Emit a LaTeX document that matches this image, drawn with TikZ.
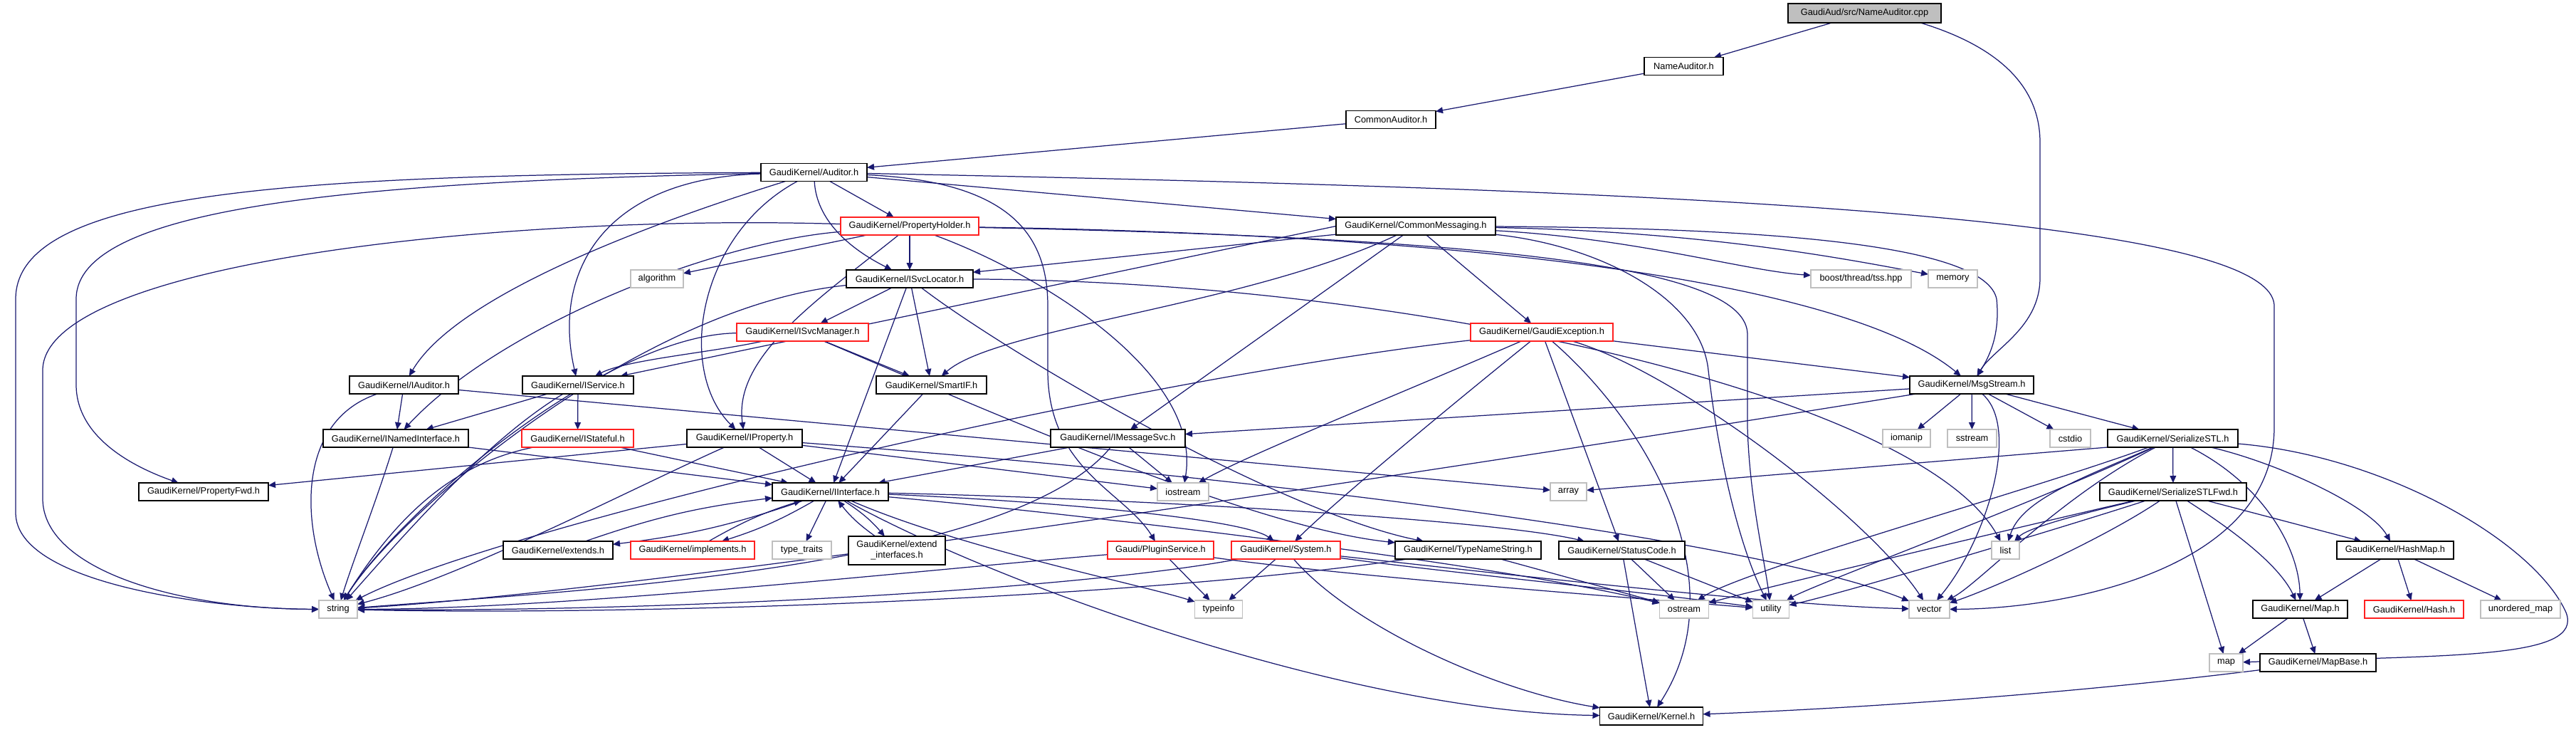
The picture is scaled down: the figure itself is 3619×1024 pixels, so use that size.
\documentclass[tikz,border=0pt]{standalone}
\usepackage{fontspec}
\newfontfamily\dfont{Liberation Sans}
\usetikzlibrary{arrows.meta,calc}
\definecolor{edgec}{HTML}{191970}
\definecolor{redc}{HTML}{FF2020}
\definecolor{grayc}{HTML}{BFBFBF}
\pgfdeclarelayer{bg}
\pgfsetlayers{bg,main}
\begin{document}
\begin{tikzpicture}[x=0.5pt,y=-0.5pt,
  box/.style={draw=black,line width=0.65pt,fill=white,minimum height=12.5pt,inner sep=0pt,outer sep=0pt,font=\dfont\fontsize{6.4pt}{7.4pt}\selectfont},
  rbox/.style={box,draw=redc},
  gbox/.style={box,draw=grayc},
  ed/.style={draw=edgec,line width=0.62pt,-{Triangle[length=5pt,width=4.4pt]}}]
\useasboundingbox (0,0) rectangle (3619,1024);
% nodes
\node[box,fill=grayc,minimum width=107.5pt,minimum height=13.5pt] (cpp) at (2619.5,18.5) {GaudiAud/src/NameAuditor.cpp};
\node[box,minimum width=55.5pt] (nah) at (2365.5,93) {NameAuditor.h};
\node[box,minimum width=63pt] (cah) at (1954,168) {CommonAuditor.h};
\node[box,minimum width=74.5pt] (aud) at (1143.5,242) {GaudiKernel/Auditor.h};
\node[rbox,minimum width=97pt] (ph) at (1278,317.5) {GaudiKernel/PropertyHolder.h};
\node[box,minimum width=112pt] (cm) at (1989,317.5) {GaudiKernel/CommonMessaging.h};
\node[gbox,minimum width=37pt] (alg) at (923,391.5) {algorithm};
\node[box,minimum width=89pt] (isl) at (1278,391.5) {GaudiKernel/ISvcLocator.h};
\node[gbox,minimum width=70.5pt] (tss) at (2614.5,391.5) {boost/thread/tss.hpp};
\node[gbox,minimum width=34.5pt] (mem) at (2743.5,391.5) {memory};
\node[rbox,minimum width=92.5pt] (ism) at (1127.5,466.5) {GaudiKernel/ISvcManager.h};
\node[rbox,minimum width=100pt] (gex) at (2166,466.5) {GaudiKernel/GaudiException.h};
\node[box,minimum width=76.5pt] (iaud) at (567.5,540.5) {GaudiKernel/IAuditor.h};
\node[box,minimum width=78pt] (isvc) at (812,540.5) {GaudiKernel/IService.h};
\node[box,minimum width=77.5pt] (sif) at (1308.5,540.5) {GaudiKernel/SmartIF.h};
\node[box,minimum width=87pt] (ms) at (2770,540.5) {GaudiKernel/MsgStream.h};
\node[box,minimum width=102pt] (ini) at (556,615.5) {GaudiKernel/INamedInterface.h};
\node[rbox,minimum width=78.5pt] (ist) at (811.5,615.5) {GaudiKernel/IStateful.h};
\node[box,minimum width=81pt] (ip) at (1046,615.5) {GaudiKernel/IProperty.h};
\node[box,minimum width=94.5pt] (ims) at (1570.5,615.5) {GaudiKernel/IMessageSvc.h};
\node[gbox,minimum width=33.5pt] (iom) at (2678.5,615.5) {iomanip};
\node[gbox,minimum width=34.5pt] (sst) at (2770.5,615.5) {sstream};
\node[gbox,minimum width=28.5pt] (cst) at (2908.5,615.5) {cstdio};
\node[box,minimum width=91.5pt] (sstl) at (3052.5,615.5) {GaudiKernel/SerializeSTL.h};
\node[box,minimum width=91pt] (pfwd) at (286,690.5) {GaudiKernel/PropertyFwd.h};
\node[box,minimum width=81.5pt] (ii) at (1166.5,690.5) {GaudiKernel/IInterface.h};
\node[gbox,minimum width=36pt] (ios) at (1662,690.5) {iostream};
\node[gbox,minimum width=25.5pt] (arr) at (2203.5,690.5) {array};
\node[box,minimum width=103pt] (sfwd) at (3053,690.5) {GaudiKernel/SerializeSTLFwd.h};
\node[box,minimum width=77pt] (ext) at (784,772.5) {GaudiKernel/extends.h};
\node[rbox,minimum width=87pt] (impl) at (973,772.5) {GaudiKernel/implements.h};
\node[gbox,minimum width=41.5pt] (tt) at (1126.5,772.5) {type\_traits};
\node[box,minimum width=68pt,minimum height=20pt,align=center] (exi) at (1260,773) {GaudiKernel/extend\\\_interfaces.h};
\node[rbox,minimum width=74.5pt] (ps) at (1630.5,772.5) {Gaudi/PluginService.h};
\node[rbox,minimum width=76.5pt] (sys) at (1806.5,772.5) {GaudiKernel/System.h};
\node[box,minimum width=102.5pt] (tns) at (2062.5,772.5) {GaudiKernel/TypeNameString.h};
\node[box,minimum width=88.5pt] (sc) at (2278.5,772.5) {GaudiKernel/StatusCode.h};
\node[gbox,minimum width=19.5pt] (lst) at (2817.5,772.5) {list};
\node[box,minimum width=82pt] (hm) at (3365,772.5) {GaudiKernel/HashMap.h};
\node[gbox,minimum width=27pt] (str) at (475,855.5) {string};
\node[gbox,minimum width=33.5pt] (ti) at (1712,855.5) {typeinfo};
\node[gbox,minimum width=34.5pt] (ost) at (2366,855.5) {ostream};
\node[gbox,minimum width=25.5pt] (utl) at (2488,855.5) {utility};
\node[gbox,minimum width=28.5pt] (vec) at (2710.5,855.5) {vector};
\node[box,minimum width=66.5pt] (mp) at (3231.5,855.5) {GaudiKernel/Map.h};
\node[rbox,minimum width=69.5pt] (hash) at (3391.5,855.5) {GaudiKernel/Hash.h};
\node[gbox,minimum width=56pt] (um) at (3541,855.5) {unordered\_map};
\node[gbox,minimum width=23.5pt] (map) at (3127.5,930.5) {map};
\node[box,minimum width=81.5pt] (mb) at (3256.5,930.5) {GaudiKernel/MapBase.h};
\node[box,minimum width=72.5pt] (ker) at (2320,1005.5) {GaudiKernel/Kernel.h};
% edges
\begin{pgfonlayer}{bg}
\draw[ed] (cpp) -- (nah);
\draw[ed] ($(cpp.south east)+(-29,0)$) .. controls (2790,60) and (2866,110) .. (2866,200) -- (2866,390) .. controls (2866,460) and (2800,490) .. (ms);
\draw[ed] (nah) -- (cah);
\draw[ed] (cah) -- (aud);
% Auditor.h
\draw[ed] (aud) -- (ph);
\draw[ed] (aud) -- (cm);
\draw[ed] (aud) .. controls (1147,310) and (1195,350) .. (isl);
\draw[ed] (aud) .. controls (990,290) and (650,400) .. (iaud);
\draw[ed] (aud) .. controls (850,250) and (775,380) .. (isvc);
\draw[ed] (aud) .. controls (980,330) and (950,520) .. (ip);
\draw[ed] (aud) .. controls (500,255) and (107,290) .. (107,420) -- (107,540) .. controls (107,620) and (200,660) .. (pfwd);
\draw[ed] (aud) .. controls (400,245) and (22,270) .. (22,420) -- (22,720) .. controls (22,820) and (300,855) .. (str);
\draw[ed] (aud) .. controls (2300,265) and (3195,300) .. (3195,430) -- (3195,600) .. controls (3195,800) and (2900,855) .. (vec);
\draw[ed] (aud) .. controls (1420,255) and (1472,330) .. (1472,430) -- (1472,520) .. controls (1472,660) and (1580,690) .. (ps);
% PropertyHolder.h
\draw[ed] (ph) -- (alg);
\draw[ed] (ph) -- (isl);
\draw[ed] (ph) .. controls (1150,420) and (1030,500) .. (ip);
\draw[ed] (ph) .. controls (1000,340) and (700,460) .. (ini);
\draw[ed] (ph) .. controls (700,300) and (60,370) .. (60,520) -- (60,700) .. controls (60,800) and (250,855) .. (str);
\draw[ed] (ph) .. controls (1450,380) and (1690,520) .. (ios);
\draw[ed] (ph) .. controls (2100,330) and (2600,400) .. (ms);
\draw[ed] (ph) .. controls (2150,335) and (2455,380) .. (2455,470) -- (2455,600) .. controls (2458,700) and (2478,780) .. (utl);
% CommonMessaging.h
\draw[ed] (cm) -- (isl);
\draw[ed] (cm.west) -- (isvc);
\draw[ed] (cm) .. controls (1750,430) and (1400,460) .. (sif);
\draw[ed] (cm) -- (ims);
\draw[ed] (cm) .. controls (2500,320) and (2790,345) .. (2805,420) .. controls (2810,470) and (2795,500) .. (ms);
\draw[ed] (cm) -- (gex);
\draw[ed] (cm) .. controls (2300,335) and (2450,380) .. (tss);
\draw[ed] (cm) .. controls (2400,325) and (2600,365) .. (mem);
\draw[ed] (cm) .. controls (2250,345) and (2390,420) .. (2400,520) .. controls (2415,650) and (2445,770) .. (utl);
% ISvcLocator.h
\draw[ed] (isl) -- (ism);
\draw[ed] (isl) -- (ii);
\draw[ed] (isl) -- (sif);
\draw[ed] (isl) .. controls (1420,500) and (1800,720) .. (tns);
\draw[ed] (isl) .. controls (900,430) and (560,720) .. (str);
\draw[ed] (isl) .. controls (2000,395) and (2700,560) .. (lst);
% ISvcManager.h
\draw[ed] (ism) .. controls (1000,495) and (880,505) .. (isvc);
\draw[ed] (ism) -- (sif);
\draw[ed] (ism) .. controls (850,470) and (560,720) .. (str);
\draw[ed] (ism) .. controls (1350,560) and (1750,740) .. (tns);
% GaudiException.h
\draw[ed] (gex) -- (ms);
\draw[ed] (gex) .. controls (1600,530) and (700,740) .. (str);
\draw[ed] (gex) .. controls (1950,560) and (1750,640) .. (ios);
\draw[ed] (gex) .. controls (2050,560) and (1880,700) .. (sys);
\draw[ed] (gex) -- (sc);
\draw[ed] (gex) .. controls (2320,600) and (2440,820) .. (ker);
\draw[ed] (gex) .. controls (2350,520) and (2620,720) .. (vec);
% rank 7
\draw[ed] (iaud) -- (ini);
\draw[ed] (iaud) .. controls (420,590) and (420,730) .. (str);
\draw[ed] (iaud) -- (arr);
\draw[ed] (isvc) -- (ini);
\draw[ed] (isvc) -- (ist);
\draw[ed] (isvc) .. controls (680,620) and (560,760) .. (str);
\draw[ed] (sif) -- (ii);
\draw[ed] (ms) -- (ims);
\draw[ed] (ms) .. controls (1900,680) and (900,830) .. (str);
\draw[ed] (ms) -- (iom);
\draw[ed] (ms) -- (sst);
\draw[ed] (ms) -- (cst);
\draw[ed] (ms) -- (sstl);
\draw[ed] (ms) .. controls (2840,600) and (2790,760) .. (vec);
% rank 8
\draw[ed] (ini) -- (ii);
\draw[ed] (ini) .. controls (530,700) and (495,790) .. (str);
\draw[ed] (ist) -- (ii);
\draw[ed] (ist) .. controls (640,650) and (560,720) .. (str);
\draw[ed] (ip) -- (pfwd);
\draw[ed] (ip) -- (ii);
\draw[ed] (ip) -- (ios);
\draw[ed] (ip) .. controls (1900,680) and (2500,770) .. (vec);
\draw[ed] (ip) .. controls (900,680) and (650,810) .. (str);
\draw[ed] (ims) -- (ii);
\draw[ed] (ims) -- (ios);
\draw[ed] (ims) .. controls (1420,800) and (800,830) .. (str);
\draw[ed] (sstl) -- (sfwd);
\draw[ed] (sstl.south west) -- (arr);
\draw[ed] (sstl) .. controls (2930,670) and (2840,700) .. (lst);
\draw[ed] (sstl) .. controls (2890,700) and (2780,820) .. (vec);
\draw[ed] (sstl) .. controls (3180,680) and (3230,770) .. (mp);
\draw[ed] (sstl) .. controls (3200,650) and (3330,710) .. (hm);
\draw[ed] (sstl) .. controls (3350,640) and (3560,760) .. (3605,860) .. controls (3630,925) and (3450,920) .. (map);
\draw[ed] (sstl) .. controls (2850,690) and (2450,800) .. (ost);
\draw[ed] (sstl) .. controls (2850,710) and (2550,820) .. (utl);
% IInterface.h
\draw[ed] (ii) to[bend left=6] (ext);
\draw[ed] (ext) to[bend left=6] (ii);
\draw[ed] (ii) to[bend left=6] (impl);
\draw[ed] (impl) to[bend left=6] (ii);
\draw[ed] (ii) to[bend left=8] (exi);
\draw[ed] (exi) to[bend left=8] (ii);
\draw[ed] (ii) -- (tt);
\draw[ed] (ii) .. controls (1500,705) and (1750,730) .. (sys);
\draw[ed] (ii) .. controls (1600,700) and (2100,730) .. (sc);
\draw[ed] (ii) .. controls (1400,820) and (1900,1000) .. (ker);
\draw[ed] (ii) .. controls (1350,770) and (1600,820) .. (ti);
\draw[ed] (ii) .. controls (1500,720) and (2100,790) .. (ost);
% SerializeSTLFwd.h
\draw[ed] (sfwd) .. controls (2930,720) and (2850,740) .. (lst);
\draw[ed] (sfwd) .. controls (2950,760) and (2790,830) .. (vec);
\draw[ed] (sfwd) -- (map);
\draw[ed] (sfwd) .. controls (3130,740) and (3200,790) .. (mp);
\draw[ed] (sfwd) -- (hm);
\draw[ed] (sfwd) .. controls (2900,740) and (2600,830) .. (utl);
\draw[ed] (sfwd) .. controls (2880,730) and (2500,820) .. (ost);
% maps
\draw[ed] (hm) -- (mp);
\draw[ed] (hm) -- (hash);
\draw[ed] (hm) -- (um);
\draw[ed] (mp) -- (map);
\draw[ed] (mp) -- (mb);
\draw[ed] (mb) .. controls (2900,975) and (2600,995) .. (ker);
% rank 10
\draw[ed] (ps) .. controls (1300,800) and (800,855) .. (str);
\draw[ed] (ps) -- (ti);
\draw[ed] (ps) .. controls (1900,810) and (2300,840) .. (utl);
\draw[ed] (sys) .. controls (1500,830) and (900,860) .. (str);
\draw[ed] (sys) -- (ti);
\draw[ed] (sys) .. controls (2150,810) and (2500,850) .. (vec);
\draw[ed] (sys) .. controls (1900,880) and (2100,970) .. (ker);
\draw[ed] (sys) .. controls (2000,800) and (2300,830) .. (utl);
\draw[ed] (tns) .. controls (1600,840) and (900,865) .. (str);
\draw[ed] (tns) -- (ost);
\draw[ed] (sc) -- (ost);
\draw[ed] (sc) -- (utl);
\draw[ed] (sc) -- (ker);
\end{pgfonlayer}
\end{tikzpicture}
\end{document}
